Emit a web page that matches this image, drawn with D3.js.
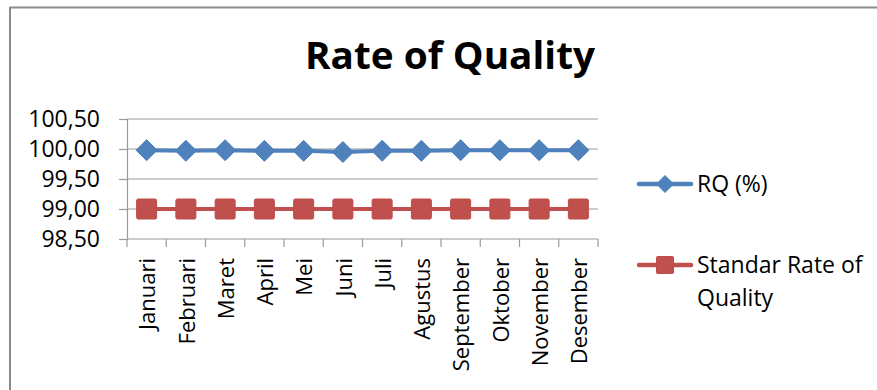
<!DOCTYPE html>
<html>
<head>
<meta charset="utf-8">
<script src="https://cdn.jsdelivr.net/npm/d3@7"></script>
<style>
  html, body { margin: 0; padding: 0; background: #fff; }
  svg { display: block; font-family: "Open Sans", "Liberation Sans", sans-serif; }
</style>
</head>
<body>
<svg id="chart" width="877" height="390"></svg>
<script>
// Monthly categories
const months = ["Januari", "Februari", "Maret", "April", "Mei", "Juni",
                "Juli", "Agustus", "September", "Oktober", "November", "Desember"];
// Rate of Quality per month (%)
const rqValues = [99.98, 99.97, 99.98, 99.97, 99.97, 99.95, 99.97, 99.97, 99.98, 99.98, 99.98, 99.98];
// Quality standard per month (%)
const standardValues = [99.00, 99.00, 99.00, 99.00, 99.00, 99.00, 99.00, 99.00, 99.00, 99.00, 99.00, 99.00];
// Y-axis ticks
const yTicks = [98.5, 99.0, 99.5, 100.0, 100.5];
const seriesNames = ["RQ (%)", "Standar Rate of Quality"];

const svg = d3.select("#chart");
const blue = "#4a7ebb", blueFill = "#4f81bd";
const red = "#be4b48", redFill = "#c0504d";
const gridColor = "#9a9a9a";

// Outer chart frame
svg.append("path")
  .attr("d", "M10,392 L10,7.5 L880,7.5")
  .attr("fill", "none").attr("stroke", "#8c8c8c").attr("stroke-width", 2);

// Title
svg.append("text")
  .attr("x", 450).attr("y", 69)
  .attr("text-anchor", "middle")
  .attr("font-size", 37).attr("font-weight", "bold").attr("fill", "#000")
  .attr("textLength", 290).attr("lengthAdjust", "spacingAndGlyphs")
  .text("Rate of Quality");

const plot = { left: 127, right: 598, top: 119, bottom: 239 };

const x = d3.scaleBand().domain(months).range([plot.left, plot.right]);
const y = d3.scaleLinear().domain([98.5, 100.5]).range([plot.bottom, plot.top]);
const fmt = v => d3.format(".2f")(v).replace(".", ",");

// Horizontal gridlines
svg.append("g")
  .selectAll("line").data(yTicks.slice(1)).join("line")
  .attr("x1", plot.left).attr("x2", plot.right)
  .attr("y1", d => y(d)).attr("y2", d => y(d))
  .attr("stroke", gridColor).attr("stroke-width", 1.2);

// Y axis
const yAxis = svg.append("g")
  .attr("transform", `translate(${plot.left},0)`)
  .call(d3.axisLeft(y).tickValues(yTicks).tickFormat(fmt).tickSize(8).tickPadding(19));
yAxis.select(".domain").attr("stroke", gridColor).attr("stroke-width", 1.2);
yAxis.selectAll(".tick line").attr("stroke", gridColor).attr("stroke-width", 1.2);
yAxis.selectAll(".tick text")
  .attr("font-size", 23).attr("fill", "#000")
  .attr("font-family", "'Open Sans', sans-serif");

// X axis with ticks at band boundaries
const xAxis = svg.append("g")
  .attr("transform", `translate(0,${plot.bottom})`);
xAxis.append("line")
  .attr("x1", plot.left).attr("x2", plot.right)
  .attr("stroke", gridColor).attr("stroke-width", 1.2);
const boundaries = months.map(m => x(m)).concat([plot.right]);
xAxis.selectAll("line.tk").data(boundaries).join("line")
  .attr("class", "tk")
  .attr("x1", d => d).attr("x2", d => d)
  .attr("y1", 0).attr("y2", 8)
  .attr("stroke", gridColor).attr("stroke-width", 1.2);
xAxis.selectAll("text").data(months).join("text")
  .attr("transform", d => `translate(${x(d) + x.bandwidth() / 2 + 1},19) rotate(-90)`)
  .attr("text-anchor", "end")
  .attr("dy", "0.35em")
  .attr("font-size", 22).attr("fill", "#000")
  .text(d => d);

const cx = (d, i) => x(months[i]) + x.bandwidth() / 2;
const line = d3.line().x((d, i) => cx(d, i)).y(d => y(d));

// Standard series (red, square markers)
svg.append("path").datum(standardValues)
  .attr("d", line).attr("fill", "none")
  .attr("stroke", redFill).attr("stroke-width", 4).attr("stroke-linejoin", "round");
svg.append("g").selectAll("rect").data(standardValues).join("rect")
  .attr("x", (d, i) => cx(d, i) - 10).attr("y", d => y(d) - 10)
  .attr("width", 20).attr("height", 20).attr("rx", 1.5)
  .attr("fill", redFill).attr("stroke", red).attr("stroke-width", 1);

// RQ series (blue, diamond markers)
svg.append("path").datum(rqValues)
  .attr("d", line).attr("fill", "none")
  .attr("stroke", blueFill).attr("stroke-width", 4).attr("stroke-linejoin", "round");
const diamond = (px, py, r) => `M${px},${py - r}L${px + r},${py}L${px},${py + r}L${px - r},${py}Z`;
svg.append("g").selectAll("path").data(rqValues).join("path")
  .attr("d", (d, i) => diamond(cx(d, i), y(d), 10.5))
  .attr("fill", blueFill).attr("stroke", blue).attr("stroke-width", 1);

// Legend
const legend = svg.append("g");
const legY = [184, 265];
legend.append("line").attr("x1", 639).attr("x2", 691).attr("y1", legY[0]).attr("y2", legY[0])
  .attr("stroke", blueFill).attr("stroke-width", 4.5).attr("stroke-linecap", "round");
legend.append("path").attr("d", diamond(665, legY[0], 8.5))
  .attr("fill", blueFill).attr("stroke", blue).attr("stroke-width", 1);
legend.append("text").attr("x", 697).attr("y", legY[0]).attr("dy", "0.35em")
  .attr("font-size", 23).attr("fill", "#000").text(seriesNames[0]);

legend.append("line").attr("x1", 639).attr("x2", 691).attr("y1", legY[1]).attr("y2", legY[1])
  .attr("stroke", redFill).attr("stroke-width", 4.5).attr("stroke-linecap", "round");
legend.append("rect").attr("x", 665 - 8.5).attr("y", legY[1] - 8.5)
  .attr("width", 17).attr("height", 17).attr("rx", 1)
  .attr("fill", redFill).attr("stroke", red).attr("stroke-width", 1);
const t2 = legend.append("text").attr("x", 697).attr("y", legY[1]).attr("dy", "0.35em")
  .attr("font-size", 23).attr("fill", "#000");
t2.append("tspan").attr("x", 697).text("Standar Rate of");
t2.append("tspan").attr("x", 697).attr("dy", 33).text("Quality");
</script>
</body>
</html>
